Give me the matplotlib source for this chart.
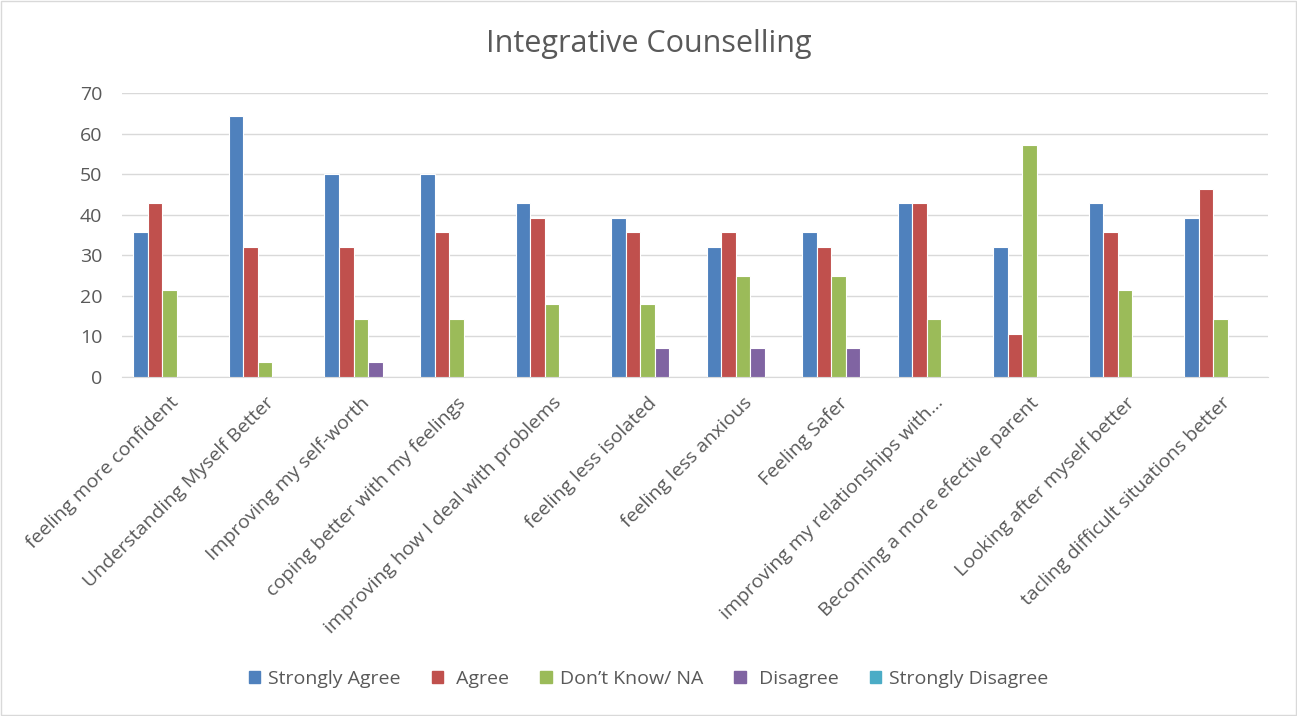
import matplotlib
matplotlib.use("Agg")
import matplotlib.pyplot as plt
import numpy as np
from matplotlib.patches import Rectangle

categories = ["feeling more confident", "Understanding Myself Better", "Improving my self-worth",
              "coping better with my feelings", "improving how I deal with problems",
              "feeling less isolated", "feeling less anxious", "Feeling Safer",
              "improving my relationships with…", "Becoming a more efective parent",
              "Looking after myself better", "tacling difficult situations better"]
series_names = ["Strongly Agree", " Agree", "Don\u2019t Know/ NA", " Disagree", "Strongly Disagree"]
strongly_agree = [35.7, 64.3, 50.0, 50.0, 42.9, 39.3, 32.1, 35.7, 42.9, 32.1, 42.9, 39.3]
agree = [42.9, 32.1, 32.1, 35.7, 39.3, 35.7, 35.7, 32.1, 42.9, 10.7, 35.7, 46.4]
dont_know = [21.4, 3.6, 14.3, 14.3, 17.9, 17.9, 25.0, 25.0, 14.3, 57.1, 21.4, 14.3]
disagree = [0, 0, 3.6, 0, 0, 7.1, 7.1, 7.1, 0, 0, 0, 0]
strongly_disagree = [0] * 12
colors = ["#4F81BD", "#C0504D", "#9BBB59", "#8064A2", "#4BACC6"]
yticks = [0, 10, 20, 30, 40, 50, 60, 70]

plt.rcParams['font.family'] = ['Open Sans', 'DejaVu Sans']
txt = "#595959"

fig = plt.figure(figsize=(12.97, 7.16), dpi=100)
ax = fig.add_axes([0.094, 0.4735, 0.884, 0.3965])

data = [strongly_agree, agree, dont_know, disagree, strongly_disagree]
x = np.arange(len(categories))
slot = 0.152
bw = 0.152
for i, (vals, c, n) in enumerate(zip(data, colors, series_names)):
    ax.bar(x + (i - 2) * slot, vals, width=bw, color=c, edgecolor="white", linewidth=0.8, label=n, zorder=3)

ax.set_xlim(-0.5, len(categories) - 0.5)
ax.set_ylim(0, 70)
ax.set_yticks(yticks)
ax.set_yticklabels([str(v) for v in yticks], fontsize=14, color=txt)
ax.grid(axis="y", color="#d9d9d9", linewidth=1.0, zorder=0)
ax.set_xticks(x)
ax.set_xticklabels(categories, rotation=45, ha="right", rotation_mode="anchor", fontsize=14, color=txt)
ax.tick_params(axis="y", length=0, pad=14)
ax.tick_params(axis="x", length=0, pad=12)
for s in ["top", "right", "left"]:
    ax.spines[s].set_visible(False)
ax.spines["bottom"].set_color("#d9d9d9")
ax.spines["bottom"].set_zorder(1)

fig.text(0.5, 0.938, "Integrative Counselling", ha="center", va="center", fontsize=22, color=txt)

handles = [Rectangle((0, 0), 1, 1, color=c) for c in colors]
fig.legend(handles, series_names, loc="center", bbox_to_anchor=(0.5, 0.052), ncol=5, frameon=False,
           fontsize=14, labelcolor=txt, handlelength=0.6, handleheight=0.6, handletextpad=0.4, columnspacing=1.6)

fig.patches.append(Rectangle((0.001, 0.001), 0.998, 0.997, transform=fig.transFigure, fill=False,
                             edgecolor="#d9d9d9", linewidth=1))
fig.savefig("out.png", dpi=100)
